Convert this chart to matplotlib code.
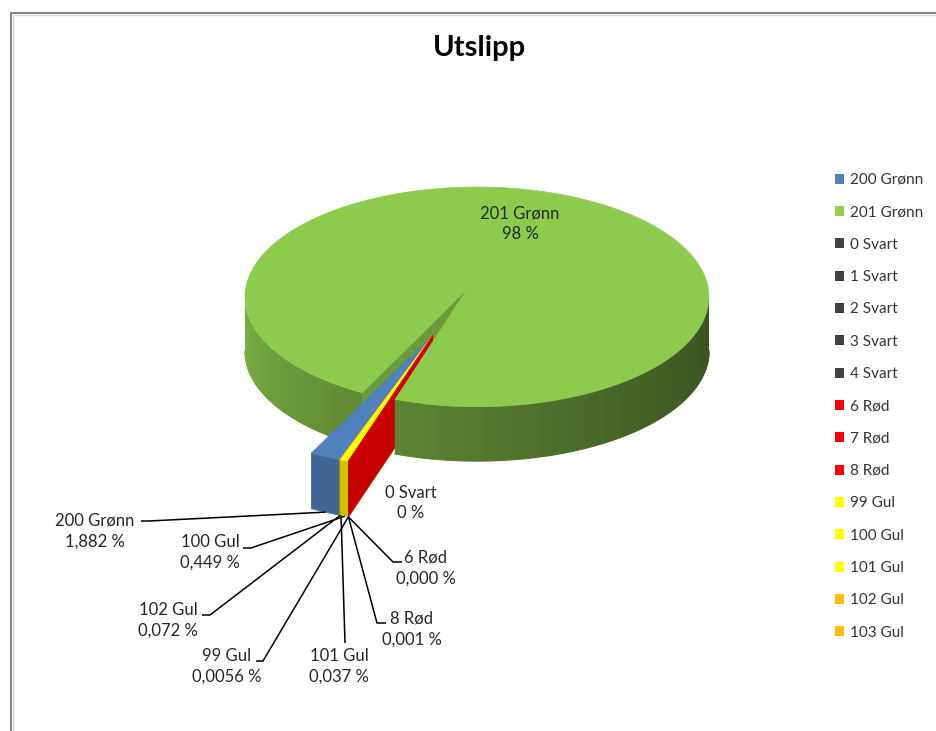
import numpy as np
import matplotlib.pyplot as plt
from matplotlib.patches import Polygon, Patch
from matplotlib.colors import to_rgb

plt.rcParams['font.family'] = ['Lato', 'DejaVu Sans']

# utslipp per kategori, prosent (samme rekkefølge som forklaringen)
names = ['200 Grønn', '201 Grønn', '0 Svart', '1 Svart', '2 Svart', '3 Svart',
         '4 Svart', '6 Rød', '7 Rød', '8 Rød', '99 Gul', '100 Gul', '101 Gul',
         '102 Gul', '103 Gul']
values = [1.882, 97.5534, 0.0, 0.0, 0.0, 0.0, 0.0, 0.0, 0.0, 0.001, 0.0056,
          0.449, 0.037, 0.072, 0.0]
colors = ['#4F81BD', '#92D050', '#404040', '#404040', '#404040', '#404040',
          '#404040', '#FF0000', '#FF0000', '#FF0000', '#FFFF00', '#FFFF00',
          '#FFFF00', '#FFC000', '#FFC000']
# antall desimaler i etiketten, None = ingen etikett
decimals = [3, 0, 0, None, None, None, None, 3, None, 3, 4, 3, 3, 3, None]
exploded = [i != 1 for i in range(len(names))]

# etikettplassering: tekstsenter, startpunkt for linje og lengde på knekk
label_pos = {
    '201 Grønn': ((520, 224), None, 0),
    '0 Svart': ((411, 503), None, 0),
    '200 Grønn': ((95, 531), (141, 521), 8),
    '100 Gul': ((210, 552), (243, 548), 8),
    '102 Gul': ((168, 620), (202, 615), 8),
    '99 Gul': ((227, 666), (256, 661), 7),
    '101 Gul': ((339, 666), (345, 643), 0),
    '8 Rød': ((412, 629), (386, 623), -9),
    '6 Rød': ((426, 568), (402, 562), -9),
}

fig = plt.figure(figsize=(9.36, 7.31), dpi=100)
ax = fig.add_axes([0, 0, 1, 1])
ax.axis('off')

# ramme rundt diagrammet
ax.plot([10.5, 10.5, 940], [740, 12.5, 12.5], color='#808080', lw=1.4,
        clip_on=False, solid_joinstyle='miter')
ax.plot([12.5, 12.5, 940], [740, 14.5, 14.5], color='#D9D9D9', lw=1.0,
        clip_on=False)

ax.text(479, 48, 'Utslipp', ha='center', va='center', fontsize=21,
        fontweight='bold', color='black')

# 3D-kake: ellipse for toppflaten, midtpunkt for spissene og høyde på siden
cx, cy, a, b, depth = 477, 297, 232, 110, 54
apex = (467, 289)
first_angle = 112.8          # grader, med klokka fra kl. 3
pull, grow, explode_dir = 0.443, 1.15, 109.3

spans = np.array(values) / 100 * 360
starts = first_angle + np.concatenate([[0], np.cumsum(spans)[:-1]])
ends = starts + spans

zorder = [1]


def next_z():
    zorder[0] += 1
    return zorder[0]


def arc(t1, t2, x0, y0, r, z=0.0):
    ts = np.radians(np.linspace(t1, t2, max(int(abs(t2 - t1) * 2), 2)))
    return np.column_stack([x0 + r * a * np.cos(ts), y0 + r * b * np.sin(ts) + z])


def shade(c, f):
    return tuple(np.clip(np.array(to_rgb(c)) * f, 0, 1))


def green_fade(t):
    return 0.4 + 0.45 * ((t % 360) / 180) ** 1.3


def wall_outline(t1, t2, x0, y0, r, h):
    return np.vstack([arc(t1, t2, x0, y0, r), arc(t2, t1, x0, y0, r, h)])


def shaded_wall(t1, t2, color):
    # buet sidevegg med glidende skygge fra venstre mot høyre
    pts = wall_outline(t1, t2, cx, cy, 1, depth)
    xs = np.linspace(cx - a, cx + a, 600)
    t = np.degrees(np.arccos(np.clip((xs - cx) / a, -1, 1)))
    rgb = np.array(to_rgb(color))[None, :] * green_fade(t)[:, None]
    z = next_z()
    im = ax.imshow(rgb[None, :, :], extent=(cx - a, cx + a, cy + b + depth + 2, cy - 2),
                   aspect='auto', interpolation='bilinear', zorder=z)
    im.set_clip_path(Polygon(pts, closed=True, transform=ax.transData))
    # tynn kant i samme farge for å glatte ut klippekanten
    bot = arc(t1, t2, cx, cy, 1, depth)
    tt = np.degrees(np.arccos(np.clip((bot[:, 0] - cx) / a, -1, 1)))
    for k in range(len(bot) - 1):
        c = shade(color, green_fade(tt[k]))
        ax.plot(bot[k:k + 2, 0], bot[k:k + 2, 1], color=c, lw=0.8, zorder=z)


def flat_wall(t1, t2, x0, y0, r, h, color):
    for k in (0, 360):
        lo, hi = max(t1, k), min(t2, k + 180)
        if hi > lo:
            ax.add_patch(Polygon(wall_outline(lo, hi, x0, y0, r, h), closed=True,
                                 facecolor=color, edgecolor=color, lw=0.5,
                                 zorder=next_z()))


def radial_wall(t, tip, x0, y0, r, h, color):
    o = arc(t, t, x0, y0, r)[0]
    pts = [tip, tuple(o), (o[0], o[1] + h), (tip[0], tip[1] + h)]
    ax.add_patch(Polygon(pts, closed=True, facecolor=color, edgecolor=color,
                         lw=0.5, zorder=next_z()))


def top_face(t1, t2, tip, x0, y0, r, color):
    pts = np.vstack([[tip], arc(t1, t2, x0, y0, r)])
    ax.add_patch(Polygon(pts, closed=True, facecolor=color, edgecolor=color,
                         lw=0.4, zorder=next_z()))


big = 1
g0, g1 = starts[big], ends[big]

# den store skiva: det som ligger bak de utskilte skivene
radial_wall(g0, apex, cx, cy, 1, depth, '#6A9A3C')
shaded_wall(g0, 180, colors[big])

# utskilte skiver, trukket ut mot betrakteren
dx = pull * a * np.cos(np.radians(explode_dir))
dy = pull * b * np.sin(np.radians(explode_dir))
ex, ey = cx + dx, cy + dy
ex_tip = (apex[0] + dx, apex[1] + dy)
ex_depth = depth * 1.03
order = sorted([i for i in range(len(values)) if exploded[i] and spans[i] > 0],
               key=lambda i: starts[i] % 360, reverse=True)
for i in order:
    radial_wall(starts[i], ex_tip, ex, ey, grow, ex_depth, shade(colors[i], 0.78))
    flat_wall(starts[i], ends[i], ex, ey, grow, ex_depth, shade(colors[i], 0.78))
    top_face(starts[i], ends[i], ex_tip, ex, ey, grow, colors[i])

# toppflaten og forsiden av den store skiva
top_face(g0, g1, apex, cx, cy, 1, '#8DCB4F')
shaded_wall(360, g1, colors[big])

# dataetiketter
for i, name in enumerate(names):
    d = decimals[i]
    if d is None:
        continue
    txt = f'{name}\n' + f'{values[i]:.{d}f}'.replace('.', ',') + ' %'
    (tx, ty), start, knee = label_pos[name]
    ax.text(tx, ty, txt, ha='center', va='center', fontsize=12,
            linespacing=1.35, color='#262626', zorder=50)
    if start is None:
        continue
    tm = np.radians((starts[i] + ends[i]) / 2)
    x0, y0 = (ex, ey) if exploded[i] else (cx, cy)
    px = x0 + grow * a * np.cos(tm)
    py = y0 + grow * b * np.sin(tm) + ex_depth
    ax.plot([start[0], start[0] + knee, px], [start[1], start[1], py],
            color='black', lw=1.1, solid_capstyle='butt', zorder=40)

handles = [Patch(facecolor=c, edgecolor='none', label=n)
           for n, c in zip(names, colors)]
leg = fig.legend(handles=handles, loc='upper left',
                 bbox_to_anchor=(835 / 936, 1 - 173 / 731), frameon=False,
                 fontsize=11, handlelength=0.62, handleheight=0.62,
                 handletextpad=0.35, labelspacing=1.2, borderpad=0,
                 borderaxespad=0)
for t in leg.get_texts():
    t.set_color('#333333')

ax.set_xlim(0, 936)
ax.set_ylim(731, 0)
fig.savefig('out.png', dpi=100)
